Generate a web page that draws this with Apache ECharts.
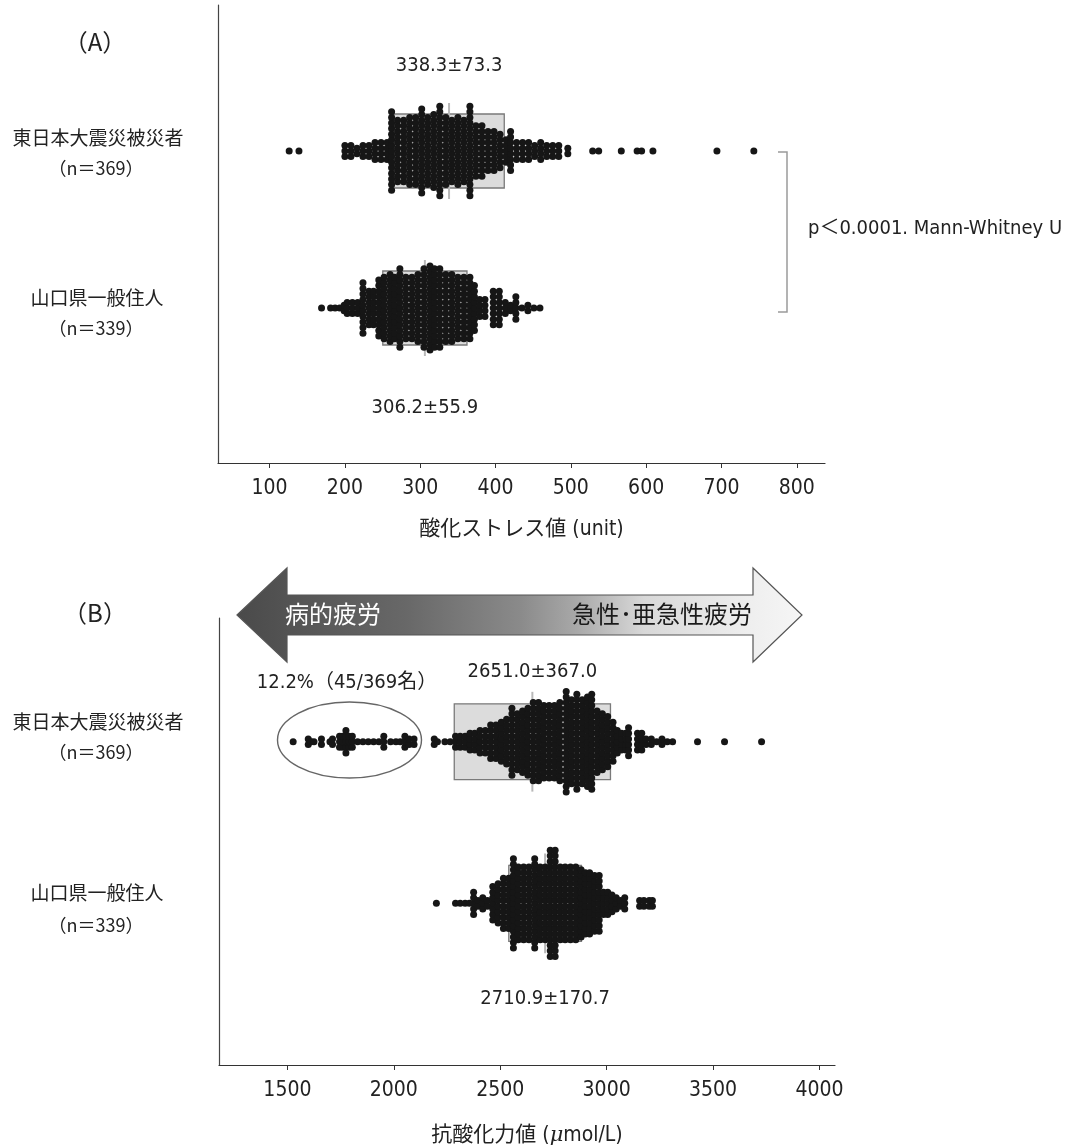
<!DOCTYPE html>
<html><head><meta charset="utf-8">
<script src="https://cdn.jsdelivr.net/npm/echarts@6/dist/echarts.min.js"></script>
<style>html,body{margin:0;padding:0;background:#fff}#c{width:1066px;height:1147px}</style>
</head><body><div id="c"></div>
<script>
// ---------- data ----------
const groupLabels = ['東日本大震災被災者', '山口県一般住人'];
const groupN = ['（n＝369）', '（n＝339）'];
const aTicks = [100, 200, 300, 400, 500, 600, 700, 800];
const bTicks = [1500, 2000, 2500, 3000, 3500, 4000];
// mean, SD
const aStats = [[338.3, 73.3], [306.2, 55.9]];
const bStats = [[2651.0, 367.0], [2710.9, 170.7]];

// Panel A, 被災者: value bins and dot counts
const aUpperX = [126,139, 200,208,216,224,232,240,248,256, 262,270,278,286,294,302,310,318,326,334,342,350,358,366, 374,382,390,398,406,414,420, 428,436,444,452,460,468,476,484,496, 529,537,567,588,594,609,694,743];
const aUpperN = [1,1, 3,3,2,3,3,4,4,4, 15,12,12,13,13,16,13,14,17,13,12,13,12,17, 10,10,8,8,7,5,8, 4,4,4,3,4,3,3,3,2, 1,1,1,1,1,1,1,1];
// Panel A, 山口県
const aLowerX = [169,181,187,193,199,203,210,217, 224,232,238,245,252,260,266,273,281,289,297,305,313,319,326,334,342,350,358,366, 372,379,386,397,405,413,420,427,435,443,451,459];
const aLowerN = [1,1,1,1,2,3,3,3, 10,7,7,11,12,13,12,15,12,12,13,15,16,15,15,13,13,12,12,12, 9,4,4,7,7,3,2,5,1,2,1,1];
// Panel B, 被災者
const bUpperX = [1527,1598,1612,1625,1660,1700,1712,1745,1760,1775,1790,1805,1830,1855,1880,1905,1930,1953,1985,2010,2030,2052,2072,2095,
  2190,2205,2240,2265,2290,2312,2335,2358,2380,2405,2430,2455,2480,2505,2530,2555,2580,2605,2630,2655,2680,2705,2730,2755,2780,2810,2835,2860,2885,2910,2930,
  2955,2980,3005,3030,3050,3070,3090,3103,3145,3165,3185,3210,3235,3260,3285,3310,3427,3554,3728];
const bUpperN = [1,2,1,1,2,1,2,3,3,5,3,3,1,1,1,1,1,3,1,1,1,3,2,2,
  2,1,1,1,3,3,3,4,4,5,5,7,7,8,9,13,11,12,13,15,15,14,14,14,15,19,16,18,16,17,18,
  12,11,10,8,5,4,4,6,4,4,2,2,1,2,1,1,1,1,1];
// Panel B, 山口県
const bLowerX = [2200,2290,2312,2335,2355,2375,2395,2418,2440,2465,2490,2515,2540,2562,2585,2610,2635,2662,2688,2712,2735,2758,2782,2805,2830,2855,2880,2900,2920,2943,2965,2985,3005,3025,3045,3065,3085,3155,3175,3200,3215];
const bLowerN = [1,1,1,1,1,5,2,3,2,7,8,10,10,17,14,14,14,17,14,14,20,20,14,14,14,14,13,12,12,11,11,5,5,4,3,2,3,2,2,2,2];

// ---------- layout ----------
const NUM_FONT = "'Liberation Sans Narrow','DejaVu Sans Condensed','Noto Sans CJK JP',sans-serif";
const JP_FONT = "'Noto Sans CJK JP',sans-serif";
const ROW = 5.6;           // vertical step between stacked dots (px = y units)
const A_CY = [312, 155];   // group centres in panel A (y units = px)
const B_CY = [324, 162];
const A_LBL = [85, -100];  // label offsets from centre
const B_LBL = [70, -96];

function swarm(xs, ns, cy) {
  const out = [];
  xs.forEach((x, i) => {
    const c = ns[i];
    for (let k = 0; k < c; k++) out.push([x, cy + (k - (c - 1) / 2) * ROW]);
  });
  return out;
}

function boxItem(params, api) {
  const mean = api.value(0), sd = api.value(1), cy = api.value(2), off = api.value(3);
  const bh = api.value(4), mh = api.value(5);
  const p1 = api.coord([mean - sd, cy + bh]);
  const p2 = api.coord([mean + sd, cy - bh]);
  const m1 = api.coord([mean, cy + mh]);
  const m2 = api.coord([mean, cy - mh]);
  const t = api.coord([mean, cy + off]);
  return {
    type: 'group',
    children: [
      { type: 'rect', shape: { x: p1[0], y: p1[1], width: p2[0] - p1[0], height: p2[1] - p1[1] },
        style: { fill: '#dcdcdc', stroke: '#7a7a7a', lineWidth: 1.3 } },
      { type: 'line', shape: { x1: m1[0], y1: m1[1], x2: m2[0], y2: m2[1] },
        style: { stroke: '#b8b8b8', lineWidth: 2 } },
      { type: 'text', x: t[0], y: t[1],
        style: { text: mean.toFixed(1) + '±' + sd.toFixed(1), fill: '#222', font: "20px " + NUM_FONT,
                 align: 'center', verticalAlign: 'middle' } }
    ]
  };
}

const axisX = (grid, min, max, ticks, name, gap) => ({
  gridIndex: grid, type: 'value', min: min, max: max,
  axisLine: { show: true, onZero: false, lineStyle: { color: '#333', width: 1.2 } },
  axisTick: { show: true, customValues: ticks, length: 5, lineStyle: { color: '#333' } },
  axisLabel: { customValues: ticks, fontSize: 21, fontFamily: NUM_FONT, color: '#222', margin: 15,
               formatter: v => String(v) },
  splitLine: { show: false },
  name: name, nameLocation: 'middle', nameGap: gap,
  nameTextStyle: { fontSize: 21, fontFamily: NUM_FONT, color: '#222',
    rich: { i: { fontSize: 21, fontFamily: "'DejaVu Serif',serif", fontStyle: 'italic', color: '#222' } } }
});
const axisY = (grid, max) => ({
  gridIndex: grid, type: 'value', min: 0, max: max,
  axisLine: { show: true, onZero: false, lineStyle: { color: '#444', width: 1.2 } },
  axisTick: { show: false }, axisLabel: { show: false }, splitLine: { show: false }
});

const dotStyle = { color: '#161616', opacity: 1 };
const scatter = (xi, data) => ({ type: 'scatter', xAxisIndex: xi, yAxisIndex: xi, data: data,
  symbolSize: 7, itemStyle: dotStyle, z: 3, silent: true, animation: false });

const txt = (x, y, text, size, font, extra) => Object.assign({
  type: 'text', x: x, y: y,
  style: Object.assign({ text: text, fill: '#222', font: size + 'px ' + (font || JP_FONT), align: 'center', verticalAlign: 'middle' }, extra || {})
});

const arrowPts = [[237,615],[287,568],[287,595],[753,595],[753,568],[802,615],[753,662],[753,635],[287,635],[287,662]];

const option = {
  animation: false,
  grid: [
    { left: 218, top: 5, width: 607, height: 458 },
    { left: 219, top: 618, width: 616, height: 448 }
  ],
  xAxis: [
    axisX(0, 31.5, 837.5, aTicks, '酸化ストレス値 (unit)', 56),
    axisX(1, 1178.6, 4073, bTicks, '抗酸化力値 ({i|μ}mol/L)', 60)
  ],
  yAxis: [axisY(0, 458), axisY(1, 448)],
  series: [
    { type: 'custom', xAxisIndex: 0, yAxisIndex: 0, renderItem: boxItem, z: 1, silent: true,
      data: aStats.map((s, i) => [s[0], s[1], A_CY[i], A_LBL[i], 37, 48]) },
    { type: 'custom', xAxisIndex: 1, yAxisIndex: 1, renderItem: boxItem, z: 1, silent: true,
      data: bStats.map((s, i) => [s[0], s[1], B_CY[i], B_LBL[i], 38, 50]) },
    scatter(0, swarm(aUpperX, aUpperN, A_CY[0])),
    scatter(0, swarm(aLowerX, aLowerN, A_CY[1])),
    scatter(1, swarm(bUpperX, bUpperN, B_CY[0])),
    scatter(1, swarm(bLowerX, bLowerN, B_CY[1]))
  ],
  graphic: [
    txt(95, 42, '（A）', 24),
    txt(98, 138, groupLabels[0], 19),
    txt(96, 168, groupN[0], 18),
    txt(97, 298, groupLabels[1], 19),
    txt(96, 328, groupN[1], 18),
    { type: 'polyline', shape: { points: [[778,152],[787,152],[787,312],[778,312]] },
      style: { stroke: '#9a9a9a', lineWidth: 1.5, fill: null } },
    txt(808, 229, 'p＜0.0001. Mann-Whitney U', 20, NUM_FONT, { align: 'left' }),
    txt(95, 613, '（B）', 24),
    txt(98, 722, groupLabels[0], 19),
    txt(96, 752, groupN[0], 18),
    txt(97, 893, groupLabels[1], 19),
    txt(96, 925, groupN[1], 18),
    { type: 'polygon', shape: { points: arrowPts }, z: 0,
      style: { stroke: '#555', lineWidth: 1.2,
        fill: { type: 'linear', x: 0, y: 0, x2: 1, y2: 0, colorStops: [
          { offset: 0, color: '#4a4a4a' }, { offset: 0.3, color: '#686868' },
          { offset: 0.5, color: '#8a8a8a' }, { offset: 0.6, color: '#a8a8a8' },
          { offset: 0.72, color: '#d8d8d8' }, { offset: 0.9, color: '#eeeeee' }, { offset: 1, color: '#f6f6f6' }] } } },
    txt(333, 614, '病的疲労', 24, JP_FONT, { fill: '#ffffff' }),
    txt(662, 614, '急性･亜急性疲労', 24, JP_FONT, { fill: '#1a1a1a' }),
    txt(347, 683, '12.2%（45/369名）', 20, NUM_FONT),
    { type: 'ellipse', shape: { cx: 349.5, cy: 740, rx: 72, ry: 38 },
      style: { stroke: '#666', lineWidth: 1.4, fill: null } }
  ]
};

const chart = echarts.init(document.getElementById('c'));
chart.setOption(option);
</script>
</body></html>
